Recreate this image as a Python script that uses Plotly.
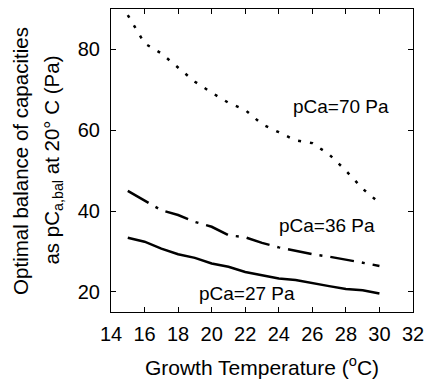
import plotly.graph_objects as go

temps = [15, 16, 17, 18, 19, 20, 21, 22, 23, 24, 25, 26, 27, 28, 29, 30]
pca70 = [88.5, 81.5, 79, 75.5, 72, 69.3, 66.8, 65, 61.5, 59.5, 57.5, 56.8, 54, 50, 45.5, 42]
pca36 = [45, 42.7, 40.2, 39, 37.3, 36.1, 34, 33.5, 32.1, 31, 30.1, 29.3, 28.7, 28, 27.2, 26.4]
pca27 = [33.4, 32.4, 30.7, 29.3, 28.4, 27, 26.2, 24.9, 24.1, 23.3, 22.9, 22.1, 21.4, 20.7, 20.4, 19.6]
labels = ["pCa=70 Pa", "pCa=36 Pa", "pCa=27 Pa"]
label_x = [27.7, 26.9, 22.1]
label_y = [65.8, 36.5, 19.6]

FONT = "Liberation Sans, Arial, sans-serif"

fig = go.Figure()
fig.add_trace(go.Scatter(x=temps, y=pca70, mode="lines",
                         line=dict(color="black", width=2.5, dash="3px,9px"), showlegend=False))
fig.add_trace(go.Scatter(x=temps, y=pca36, mode="lines",
                         line=dict(color="black", width=2.5, dash="24px,8px,3px,8px"), showlegend=False))
fig.add_trace(go.Scatter(x=temps, y=pca27, mode="lines",
                         line=dict(color="black", width=2.5), showlegend=False))

for t, x, y in zip(labels, label_x, label_y):
    fig.add_annotation(x=x, y=y, text=t, showarrow=False,
                       font=dict(family=FONT, size=19, color="black"))

fig.add_annotation(xref="paper", yref="paper", x=-0.30, y=0.5, xanchor="center", yanchor="middle",
                   text="Optimal balance of capacities", textangle=-90, showarrow=False,
                   font=dict(family=FONT, size=20.5, color="black"))
fig.add_annotation(xref="paper", yref="paper", x=-0.195, y=0.5, xanchor="center", yanchor="middle",
                   text="as pC<sub>a,bal</sub> at 20° C (Pa)", textangle=-90, showarrow=False,
                   font=dict(family=FONT, size=20.5, color="black"))

axis_common = dict(showline=True, linecolor="black", linewidth=1, mirror="ticks",
                   ticks="inside", ticklen=5, tickcolor="black", showgrid=False, zeroline=False,
                   tickfont=dict(family=FONT, size=20, color="black"))

fig.update_xaxes(range=[14, 32], tickvals=[14, 16, 18, 20, 22, 24, 26, 28, 30, 32],
                 ticklabelstandoff=4,
                 title=dict(text="Growth Temperature (<sup>o</sup>C)", standoff=16,
                            font=dict(family=FONT, size=21, color="black")),
                 **axis_common)
fig.update_yaxes(range=[15, 90], tickvals=[20, 40, 60, 80], ticklabelstandoff=6, **axis_common)

fig.update_layout(width=425, height=383, margin=dict(l=111, r=12, t=9, b=71, autoexpand=False),
                  plot_bgcolor="white", paper_bgcolor="white")

fig.write_html("out.html")
